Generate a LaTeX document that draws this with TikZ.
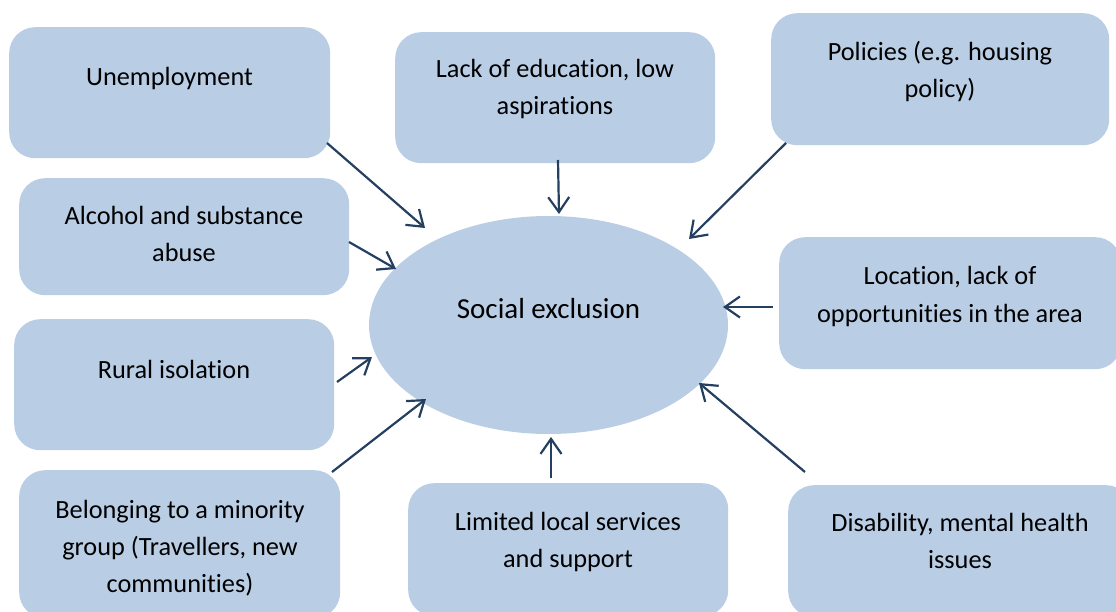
\documentclass[tikz,border=0pt]{standalone}
\usepackage{fontspec}
\setmainfont{Carlito}[Ligatures=NoCommon]
\usetikzlibrary{shapes.geometric,arrows.meta}
\definecolor{boxblue}{HTML}{B9CDE5}
\definecolor{navy}{HTML}{243F60}
\begin{document}
\begin{tikzpicture}[x=1pt,y=-1pt,
  box/.style={fill=boxblue, draw=none, rounded corners=26pt, inner sep=0pt, anchor=north west},
  txt/.style={font=\fontsize{26.3}{37}\selectfont, align=center, anchor=base, inner sep=0pt},
  arr/.style={draw=navy, line width=2.2pt, -{Straight Barb[length=15pt,width=21pt]}}]
\useasboundingbox (0,0) rectangle (1116,612);
\clip (0,0) rectangle (1116,612);
% boxes
\node[box, minimum width=321, minimum height=131] (u)  at (9,27) {};
\node[box, minimum width=320, minimum height=131] (ed) at (395,32) {};
\node[box, minimum width=338, minimum height=132] (po) at (771,13) {};
\node[box, minimum width=330, minimum height=117] (al) at (19,178) {};
\node[box, minimum width=342, minimum height=132] (lo) at (779,237) {};
\node[box, minimum width=320, minimum height=131] (ru) at (14,319) {};
\node[box, minimum width=321, minimum height=148] (be) at (19,470) {};
\node[box, minimum width=320, minimum height=133] (li) at (408,483) {};
\node[box, minimum width=344, minimum height=132] (di) at (788,485) {};
% ellipse
\node[ellipse, fill=boxblue, draw=none, minimum width=359, minimum height=218, inner sep=0pt] (se) at (548.5,325) {};
% texts (anchor = baseline of the last line)
\node[txt] (ut)  at (169.5,86) {Unemployment};
\node[txt] (edt) at (555,115) {Lack of education, low\\aspirations};
\node[txt] (pot) at (940,98) {Policies (e.g. housing\\policy)};
\node[txt] (alt) at (184,262) {Alcohol and substance\\abuse};
\node[txt] (lot) at (950,322) {Location, lack of\\opportunities in the area};
\node[txt] (rut) at (174,378) {Rural isolation};
\node[txt] (bet) at (180,592) {Belonging to a minority\\group (Travellers, new\\communities)};
\node[txt] (lit) at (568,567) {Limited local services\\and support};
\node[txt] (dit) at (960,568) {Disability, mental health\\issues};
\node[txt, font=\fontsize{29}{35}\selectfont] (set) at (548.5,319) {Social exclusion};
% connector ends
\coordinate (s1) at (327,143); \coordinate (t1) at (425,228);
\coordinate (s2) at (558,160); \coordinate (t2) at (559,214);
\coordinate (s3) at (786,143); \coordinate (t3) at (689,239);
\coordinate (s4) at (349,242); \coordinate (t4) at (396,269);
\coordinate (s5) at (773,307); \coordinate (t5) at (723,307);
\coordinate (s6) at (337,382); \coordinate (t6) at (372,357);
\coordinate (s7) at (332,472); \coordinate (t7) at (426,399);
\coordinate (s8) at (551,478); \coordinate (t8) at (551,437);
\coordinate (s9) at (805,472); \coordinate (t9) at (699,383);
\foreach \i in {1,...,9} { \draw[arr] (s\i) -- (t\i); }
\end{tikzpicture}
\end{document}
